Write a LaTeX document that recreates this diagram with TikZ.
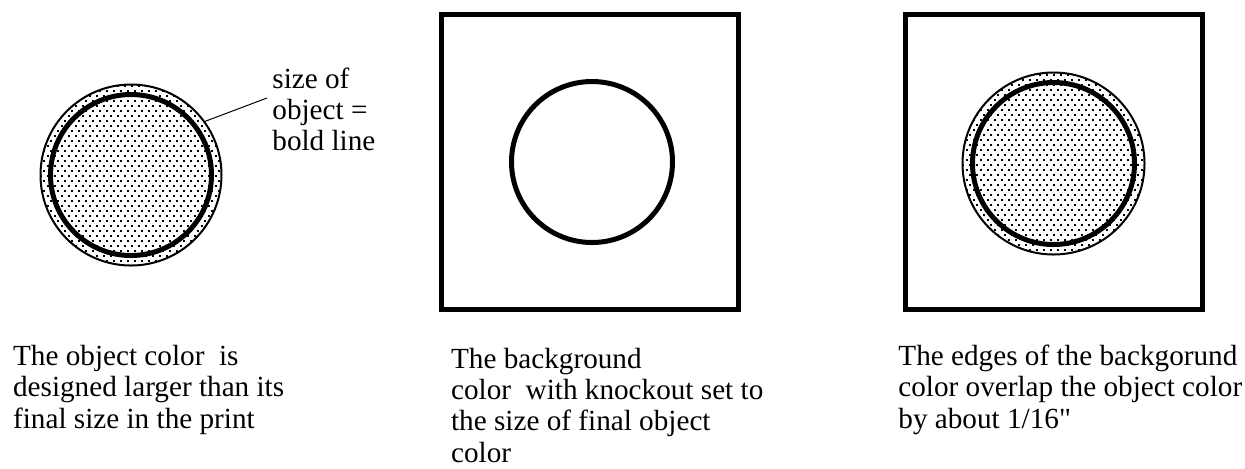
\documentclass[tikz,border=0pt]{standalone}
\usepackage{fontspec}
\setmainfont{Liberation Serif}
\usetikzlibrary{calc}
\newcommand\capfont{\fontsize{14.6pt}{15.6pt}\selectfont}
% speckled fill inside a circle: centre x, centre y, radius
\newcommand\stipple[3]{%
  \begin{scope}
    \clip (#1,#2) circle (#3);
    \foreach \row in {0,...,38}{
      \foreach \col in {0,...,27}{
        \fill ({#1-95+\col*7+mod(\row,2)*3.5},{#2-95+\row*5}) rectangle ++(2.3,2.3);
      }
    }
  \end{scope}}
\tikzset{
  thinring/.style={line width=1pt},
  boldring/.style={line width=2.5pt},
  frame/.style={line width=2.5pt},
  caption/.style={anchor=base west, align=left, inner sep=0pt, font=\capfont}
}
\begin{document}
\begin{tikzpicture}[x=0.5pt,y=-0.5pt]
  \useasboundingbox (0,0) rectangle (1245,468);
  % object colour, oversized
  \stipple{131}{175}{90.5}
  \draw[thinring] (131,175) circle (90.5);
  \draw[boldring] (131,175) circle (80.5);
  \coordinate (rim) at ($(131,175)+(-36:91)$);
  \node[caption] (sizelbl) at (272,150.7) {size of\\object =\\bold line};
  \coordinate (tip) at (267,98);
  \draw[line width=0.5pt] (rim) -- (tip);
  % background colour with knockout
  \draw[frame] (441.5,14) rectangle (738,309.5);
  \draw[boldring] (592,162) circle (80.5);
  % overlap of both
  \draw[frame] (905.5,14) rectangle (1202.5,309.5);
  \stipple{1053.5}{163.5}{91}
  \draw[thinring] (1053.5,163.5) circle (91);
  \draw[boldring] (1053.5,163.5) circle (81);
  % captions (anchored on the last line)
  \node[caption] (leftcap) at (12.7,428)
    {The object color~ is\\designed larger than its\\final size in the print};
  \node[caption] (midcap) at (450.7,462)
    {The background\\color~ with knockout set to\\the size of final object\\color};
  \node[caption] (rightcap) at (898,428)
    {The edges of the backgorund\\color overlap the object color\\by about 1/16\textquotedbl};
\end{tikzpicture}
\end{document}
